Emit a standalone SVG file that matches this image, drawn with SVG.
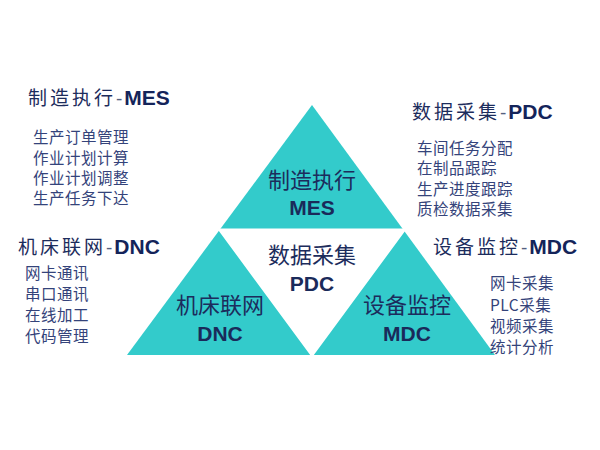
<svg xmlns="http://www.w3.org/2000/svg" width="600" height="450" viewBox="0 0 600 450">
<style>
.tri{fill:#33CBCB}
.cj{font-family:"Noto Sans CJK SC","Noto Sans",sans-serif}
.en{font-family:"Liberation Sans",Arial,sans-serif;font-weight:bold}
.tt{fill:#1c2c5c;font-size:22px;text-anchor:middle}
.te{fill:#1a2a5a;font-size:21px;text-anchor:middle}
.hd{fill:#1c2c5c;font-size:19px;letter-spacing:3px}
.hy{fill:#55607f;font-size:19px;letter-spacing:2px;font-family:"Liberation Sans",Arial,sans-serif}
.he{fill:#14245a;font-size:21px;letter-spacing:0}
.it{fill:#34437a;font-size:15.5px;letter-spacing:0.5px}
</style>
<rect width="600" height="450" fill="#ffffff"/>
<g id="pyramid">
<polygon class="tri" points="312,105 495,355 127,355"/>
<polygon points="220,230 404,230 312,355" fill="#ffffff" stroke="#ffffff" stroke-width="3"/>
</g>
<g id="node-mes-tri">
<text class="cj tt" x="312" y="188">制造执行</text>
<text class="en te" x="312" y="215">MES</text>
</g>
<g id="node-pdc-tri">
<text class="cj tt" x="312" y="263">数据采集</text>
<text class="en te" x="312" y="291">PDC</text>
</g>
<g id="node-dnc-tri">
<text class="cj tt" x="220" y="313">机床联网</text>
<text class="en te" x="220" y="341">DNC</text>
</g>
<g id="node-mdc-tri">
<text class="cj tt" x="407" y="313">设备监控</text>
<text class="en te" x="407" y="341">MDC</text>
</g>
<g id="node-mes">
<text x="28" y="105"><tspan class="cj hd">制造执行</tspan><tspan class="hy">-</tspan><tspan class="en he">MES</tspan></text>
<text class="cj it" x="33" y="143">生产订单管理</text>
<text class="cj it" x="33" y="164">作业计划计算</text>
<text class="cj it" x="33" y="184">作业计划调整</text>
<text class="cj it" x="33" y="204">生产任务下达</text>
</g>
<g id="node-pdc">
<text x="412" y="119"><tspan class="cj hd">数据采集</tspan><tspan class="hy">-</tspan><tspan class="en he">PDC</tspan></text>
<text class="cj it" x="417" y="154">车间任务分配</text>
<text class="cj it" x="417" y="174">在制品跟踪</text>
<text class="cj it" x="417" y="195">生产进度跟踪</text>
<text class="cj it" x="417" y="215">质检数据采集</text>
</g>
<g id="node-dnc">
<text x="18" y="254"><tspan class="cj hd">机床联网</tspan><tspan class="hy">-</tspan><tspan class="en he">DNC</tspan></text>
<text class="cj it" x="25" y="279">网卡通讯</text>
<text class="cj it" x="25" y="300">串口通讯</text>
<text class="cj it" x="25" y="321">在线加工</text>
<text class="cj it" x="25" y="342">代码管理</text>
</g>
<g id="node-mdc">
<text x="433" y="254"><tspan class="cj hd">设备监控</tspan><tspan class="hy">-</tspan><tspan class="en he">MDC</tspan></text>
<text class="cj it" x="490" y="289">网卡采集</text>
<text class="cj it" x="490" y="311">PLC采集</text>
<text class="cj it" x="490" y="332">视频采集</text>
<text class="cj it" x="490" y="353">统计分析</text>
</g>
<g id="connectors"></g>
</svg>
